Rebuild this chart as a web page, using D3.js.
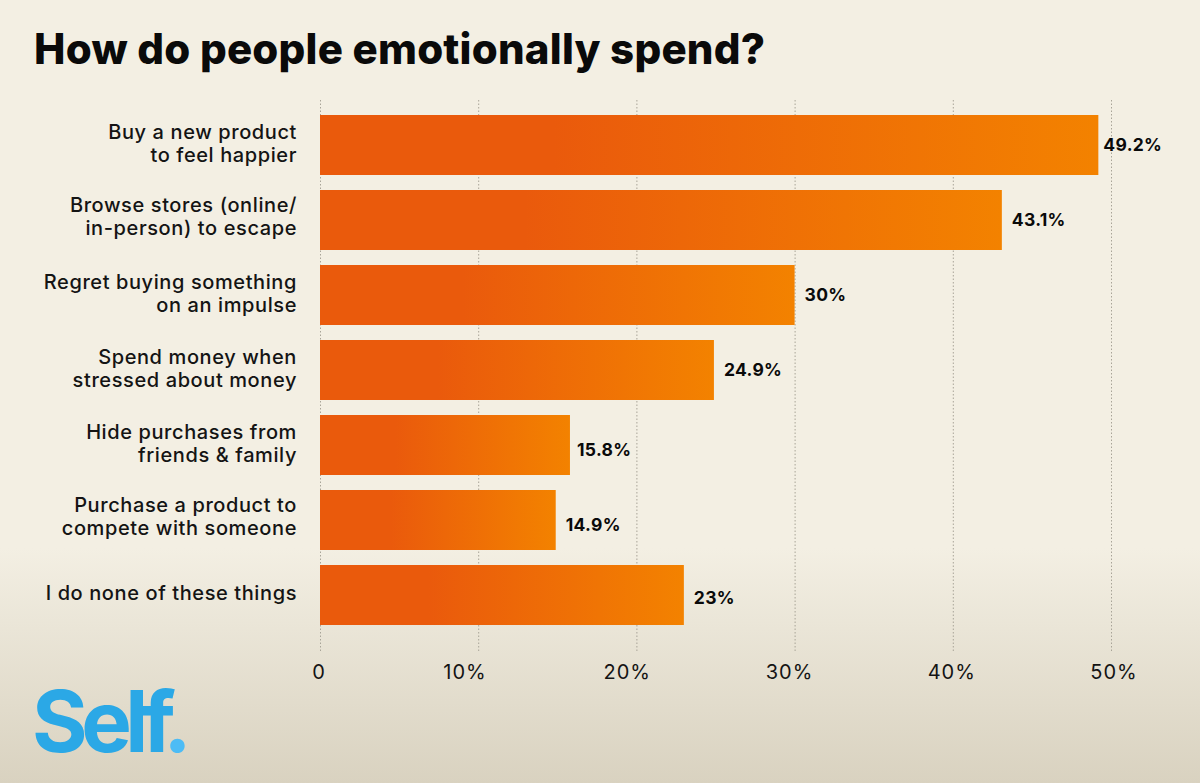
<!DOCTYPE html>
<html><head><meta charset="utf-8">
<script src="https://cdn.jsdelivr.net/npm/d3@7/dist/d3.min.js"></script>
<style>html,body{margin:0;padding:0;background:#f3efe3}svg{display:block}</style>
</head><body><svg id="c" width="1200" height="783"></svg>
<script>
const categories=[["Buy a new product","to feel happier"],["Browse stores (online/","in-person) to escape"],["Regret buying something","on an impulse"],["Spend money when","stressed about money"],["Hide purchases from","friends & family"],["Purchase a product to","compete with someone"],["I do none of these things"]];
const values=[49.2,43.1,30,24.9,15.8,14.9,23];
const valueLabels=["49.2%","43.1%","30%","24.9%","15.8%","14.9%","23%"];
const ticks=[0,10,20,30,40,50];
const tickLabels=["0","10%","20%","30%","40%","50%"];
const titleText="How do people emotionally spend?";
const F="Inter, 'Open Sans', sans-serif";
const svg=d3.select("#c");
const defs=svg.append("defs");
const bg=defs.append("linearGradient").attr("id","bg").attr("x1",0).attr("x2",0).attr("y1",0).attr("y2",1);
[[0,"#f3efe3"],[0.7,"#f3efe3"],[1,"#d9d2c0"]].forEach(s=>bg.append("stop").attr("offset",s[0]).attr("stop-color",s[1]));
const bar=defs.append("linearGradient").attr("id","bar");
[[0,"#ea5a0c"],[0.3,"#ea5a0c"],[1,"#f38200"]].forEach(s=>bar.append("stop").attr("offset",s[0]).attr("stop-color",s[1]));
svg.append("rect").attr("width",1200).attr("height",783).attr("fill","url(#bg)");
const x=d3.scaleLinear().domain([0,50]).range([320,1111]);
const tickX=d3.scaleLinear().domain([10,50]).range([465,1114]);
const y=d3.scaleBand().domain(d3.range(values.length)).range([107.5,632.5]).paddingInner(0.2).paddingOuter(0.1);
svg.append("text").text(titleText).attr("x",34).attr("y",64).attr("font-family",F).attr("font-weight",800).attr("font-size",42).attr("letter-spacing",0.22).attr("fill","#0a0a0a");
svg.append("g").selectAll("line").data(ticks).join("line")
 .attr("x1",d=>x(d)+0.5).attr("x2",d=>x(d)+0.5).attr("y1",100).attr("y2",653)
 .attr("stroke","#a8a498").attr("stroke-width",1).attr("stroke-dasharray","1.5 2");
svg.append("g").selectAll("rect").data(values).join("rect")
 .attr("x",x(0)).attr("y",(d,i)=>y(i)).attr("width",d=>x(d)-x(0)).attr("height",y.bandwidth()).attr("fill","url(#bar)");
const valDx=i=>i===0?5:(i===4?7:10), valDy=i=>i===4||i===5?11:(i===6?9:6);
svg.append("g").selectAll("text").data(values).join("text")
 .text((d,i)=>valueLabels[i]).attr("x",(d,i)=>x(d)+valDx(i)).attr("y",(d,i)=>y(i)+y.bandwidth()/2+valDy(i))
 .attr("font-family",F).attr("font-weight",700).attr("font-size",17.5).attr("letter-spacing",0.3).attr("fill","#0a0a0a");
const lab=svg.append("g").selectAll("text").data(categories).join("text")
 .attr("text-anchor","end").attr("font-family",F).attr("font-weight",500).attr("font-size",20).attr("letter-spacing",0.6).attr("fill","#141414");
lab.each(function(d,i){
 const c=y(i)+y.bandwidth()/2;
 const start=d.length>1?c-6-(i===1||i===5?2:0):c+5;
 d3.select(this).selectAll("tspan").data(d).join("tspan").attr("x",297).attr("y",(t,j)=>start+j*23).text(t=>t);
});
svg.append("g").selectAll("text").data(ticks).join("text")
 .text((d,i)=>tickLabels[i]).attr("x",d=>d===0?319:tickX(d)).attr("y",679).attr("text-anchor","middle")
 .attr("font-family",F).attr("font-weight",400).attr("font-size",20).attr("letter-spacing",1).attr("fill","#141414");
const logo=svg.append("text").attr("x",32).attr("y",752).attr("font-family",F).attr("font-weight",700).attr("font-size",85).attr("letter-spacing",-6.5).attr("fill","#2ba8e6");
logo.append("tspan").text("Self");
logo.append("tspan").text(".").attr("dx",-1).attr("fill","#4dbcf5");
</script></body></html>
